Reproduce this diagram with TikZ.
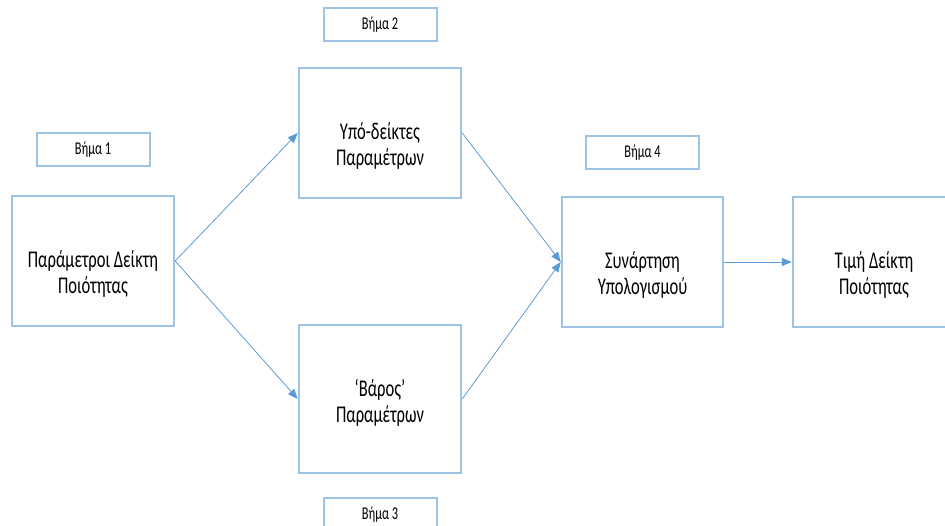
\documentclass[tikz,border=0pt]{standalone}
\usepackage{fontspec}
\setmainfont{Carlito}[FakeStretch=0.69]
\usetikzlibrary{positioning,arrows.meta}
\definecolor{boxblue}{HTML}{9DC3E6}
\definecolor{arrowblue}{HTML}{5B9BD5}

\tikzset{
  stage/.style={draw=boxblue, line width=2.5pt, rectangle, minimum width=162pt, minimum height=130pt,
    align=center, font=\fontsize{24}{26}\selectfont, text height=74pt, text depth=8pt},
  steplabel/.style={draw=boxblue, line width=2pt, rectangle, minimum width=113pt, minimum height=33pt,
    font=\fontsize{18}{20}\selectfont},
  flow/.style={draw=arrowblue, line width=0.8pt, -{Triangle[length=10pt,width=8pt]}}
}

\begin{document}
\begin{tikzpicture}[x=1pt, y=1pt]
	\useasboundingbox (0,0) rectangle (945,526);
	\node (params) [stage] at (93,265) {Παράμετροι Δείκτη\\Ποιότητας};
	\node (subidx) [stage] at (380,393) {Υπό-δείκτες\\Παραμέτρων};
	\node (weight) [stage, minimum height=148pt, text height=56pt] at (380,127) {‘Βάρος’\\Παραμέτρων};
	\node (calc) [stage, minimum width=161pt] at (642.5,264) {Συνάρτηση\\Υπολογισμού};
	\node (value) [stage] at (874,264) {Τιμή Δείκτη\\Ποιότητας};

	% step labels
	\node (step1) [steplabel, above=28pt of params] {Βήμα 1};
	\node (step2) [steplabel, above=25pt of subidx] {Βήμα 2};
	\node (step3) [steplabel, below=23pt of weight] {Βήμα 3};
	\node (step4) [steplabel, above=26pt of calc] {Βήμα 4};

	% Arrows
	\draw[flow] (params.east) -- (subidx.west);
	\draw[flow] (params.east) -- (weight.west);
	\draw[flow] (subidx.east) -- (calc.west);
	\draw[flow] (weight.east) -- (calc.west);
	\draw[flow] (calc.east) -- (value.west);
\end{tikzpicture}
\end{document}
